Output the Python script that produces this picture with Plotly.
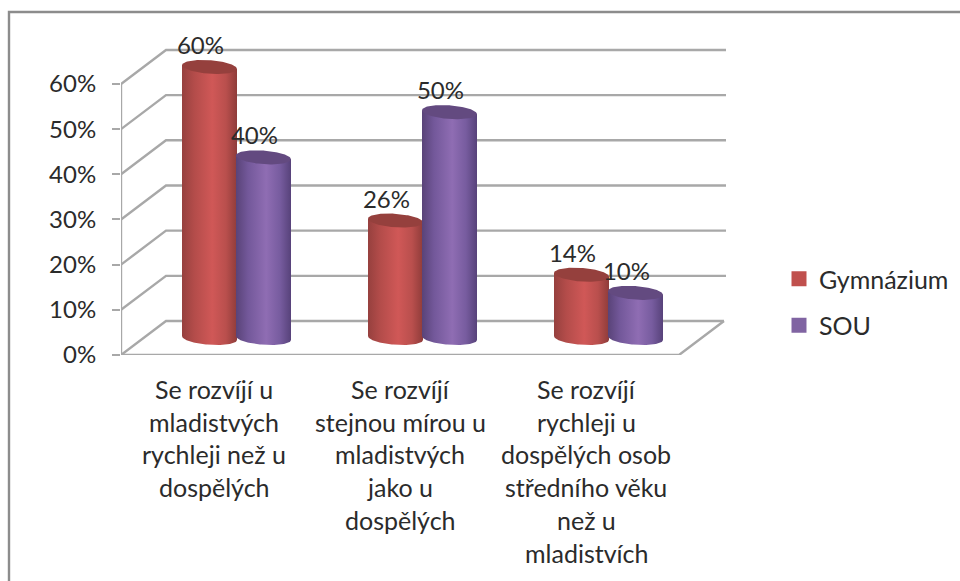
import numpy as np
import plotly.graph_objects as go

# --- data ---
categories = [
    ["Se rozvíjí u", "mladistvých", "rychleji než u", "dospělých"],
    ["Se rozvíjí", "stejnou mírou u", "mladistvých", "jako u", "dospělých"],
    ["Se rozvíjí", "rychleji u", "dospělých osob", "středního věku", "než u", "mladistvích"],
]
series_names = ["Gymnázium", "SOU"]
gymnazium = [60, 26, 14]
sou = [40, 50, 10]
y_ticks = [0, 10, 20, 30, 40, 50, 60]
y_labels = ["0%", "10%", "20%", "30%", "40%", "50%", "60%"]

# --- style / layout constants ---
FONT = "Lato"
FS = 24
FS_TEXT = 25
TXT = "#2b2b2b"
GRID = "#a8a8a8"
L, T, R, B = 121, 45, 726, 355   # plot box in pixels
UX = 186.0                       # pixels per category
UY = 4.517                       # pixels per percent
XMIN = -0.5
XMAX = XMIN + (R - L) / UX
YMAX = (B - T) / UY
DX, DY = 45 / UX, 34 / UY        # depth of the 3D box
MX, MY = DX / 2, DY / 2          # mid-plane, where the cylinders stand
A = 27.5 / UX                    # cylinder half width
BE = 6.8 / UY                    # ellipse half height
COL = {
    "Gymnázium": dict(scale=[[0, "#96403e"], [0.22, "#b34c4a"], [0.55, "#d05857"], [0.8, "#b94f4d"], [1, "#8f3c3a"]],
                      top="#95403d", leg="#c0504d", shift=-27 / UX),
    "SOU": dict(scale=[[0, "#594378"], [0.22, "#73589a"], [0.55, "#8f6db3"], [0.8, "#775c9f"], [1, "#57427a"]],
                top="#634a80", leg="#8064a2", shift=27 / UX),
}

fig = go.Figure()


def line(xs, ys):
    fig.add_trace(go.Scatter(x=xs, y=ys, mode="lines", line=dict(color=GRID, width=2.4),
                             showlegend=False, hoverinfo="skip", cliponaxis=False))


# back wall + side wall grid lines
for t in y_ticks:
    end = XMAX if t > 0 else XMIN + 3 + DX
    line([XMIN, XMIN + DX, end], [t, t + DY, t + DY])
# floor front and right edges, vertical axis
line([XMIN, XMIN + 3, XMIN + 3 + DX], [0, 0, DY])
line([XMIN, XMIN], [0, max(y_ticks)])
# category tick marks
tick_down = -8 / UY
for i in range(4):
    line([XMIN + i, XMIN + i], [0, tick_down])

th = np.linspace(0, 2 * np.pi, 121)


def cylinder(i, val, spec):
    cx = i + MX + spec["shift"]
    base = MY
    top = val + MY
    tilt = -0.07 * (A * UX) / UY
    # lower half of ellipse at base, upper straight edges to top
    t = np.linspace(np.pi, 2 * np.pi, 60)
    bx = cx + A * np.cos(t)
    by = base + BE * np.sin(t) + tilt * np.cos(t)
    xs = np.concatenate([bx, [cx + A, cx - A, cx - A]])
    ys = np.concatenate([by, [top + tilt, top - tilt, by[0]]])
    fig.add_trace(go.Scatter(x=xs, y=ys, mode="lines", line=dict(width=0), fill="toself",
                             fillgradient=dict(type="horizontal", colorscale=spec["scale"]),
                             showlegend=False, hoverinfo="skip", cliponaxis=False))
    fig.add_trace(go.Scatter(x=cx + A * np.cos(th), y=top + BE * np.sin(th) + tilt * np.cos(th),
                             mode="lines", line=dict(width=0), fill="toself", fillcolor=spec["top"],
                             showlegend=False, hoverinfo="skip", cliponaxis=False))


for i in range(3):
    for name, vals in zip(series_names, [gymnazium, sou]):
        cylinder(i, vals[i], COL[name])

# data labels
for name, vals in zip(series_names, [gymnazium, sou]):
    spec = COL[name]
    fig.add_trace(go.Scatter(
        x=[i + MX + spec["shift"] - 9 / UX for i in range(3)],
        y=[v + MY + 19 / UY for v in vals],
        mode="text", text=[f"{v}%" for v in vals], textposition="middle center",
        textfont=dict(family=FONT, size=FS, color=TXT),
        showlegend=False, hoverinfo="skip", cliponaxis=False))

# legend entries
for name in series_names:
    fig.add_trace(go.Scatter(x=[None], y=[None], mode="markers", name=name, legendgroup=name,
                             marker=dict(symbol="square", size=15, color=COL[name]["leg"])))

# category labels, one annotation per line for the original line pitch
annotations = []
for i, lines in enumerate(categories):
    for k, txt in enumerate(lines):
        annotations.append(dict(x=i, y=0, xref="x", yref="y", text=txt, showarrow=False,
                                xanchor="center", yanchor="middle", yshift=-(34 + 32.7 * k),
                                font=dict(family=FONT, size=FS_TEXT, color=TXT)))

fig.update_layout(
    width=960, height=581, autosize=False,
    margin=dict(l=L, r=960 - R, t=T, b=581 - B, pad=0, autoexpand=False),
    paper_bgcolor="white", plot_bgcolor="white",
    xaxis=dict(range=[XMIN, XMAX], showgrid=False, zeroline=False, showticklabels=False, ticks="", fixedrange=True),
    yaxis=dict(range=[0, YMAX], tickmode="array", tickvals=y_ticks, ticktext=y_labels, showgrid=False, zeroline=False,
               ticks="outside", ticklen=8, tickwidth=2.2, tickcolor=GRID, ticklabelstandoff=11,
               tickfont=dict(family=FONT, size=FS, color=TXT), fixedrange=True),
    legend=dict(x=(785 - L) / (R - L), y=(B - 256) / (B - T), xanchor="left", yanchor="top",
                font=dict(family=FONT, size=FS_TEXT, color=TXT), tracegroupgap=11, indentation=-6,
                traceorder="grouped", bgcolor="rgba(0,0,0,0)"),
    annotations=annotations,
    shapes=[dict(type="rect", xref="paper", yref="paper",
                 x0=(9 - L) / (R - L), x1=(990 - L) / (R - L),
                 y0=(B - 600) / (B - T), y1=(B - 12) / (B - T),
                 line=dict(color="#8c8c8c", width=2.4), layer="below")],
    showlegend=True,
)

fig.write_html("out.html", config={"displayModeBar": False},
               post_script="document.body.style.margin='0';")
